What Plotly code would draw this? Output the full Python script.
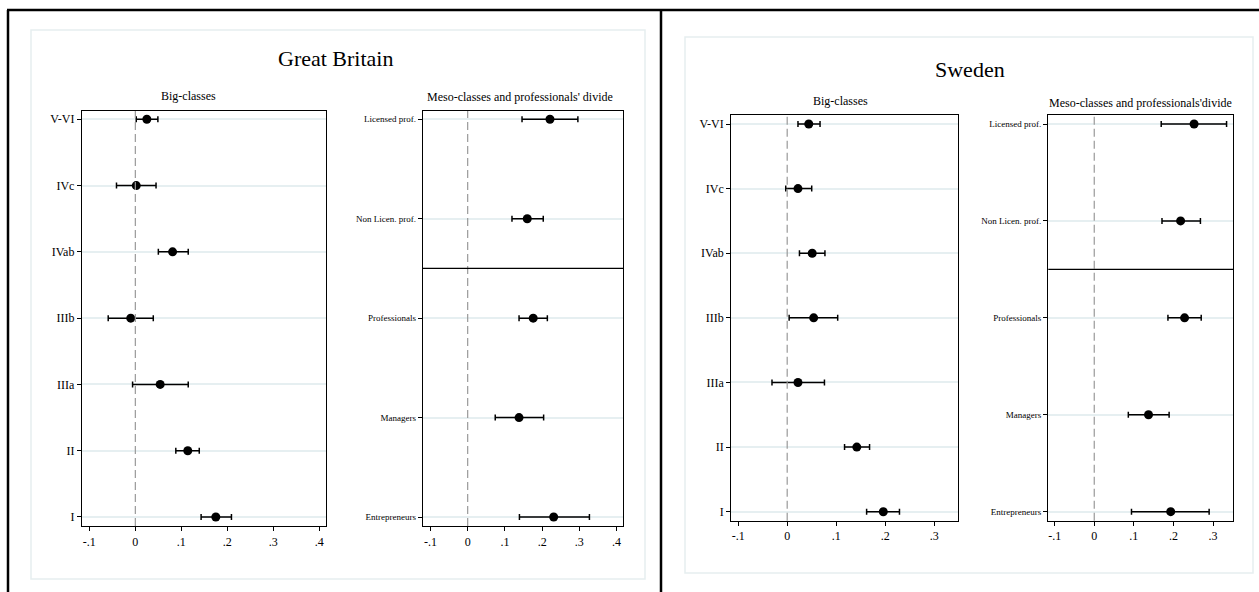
import plotly.graph_objects as go

W, H = 1259, 592

big_labels = ["I", "II", "IIIa", "IIIb", "IVab", "IVc", "V-VI"]
meso_labels = ["Entrepreneurs", "Managers", "Professionals", "Non Licen. prof.", "Licensed prof."]

# Great Britain - Big-classes (order: I ... V-VI)
gb_big_est = [0.175, 0.114, 0.054, -0.010, 0.081, 0.002, 0.025]
gb_big_lo = [0.143, 0.088, -0.006, -0.059, 0.050, -0.041, 0.002]
gb_big_hi = [0.209, 0.139, 0.115, 0.039, 0.115, 0.045, 0.049]

# Great Britain - Meso-classes
gb_meso_est = [0.231, 0.138, 0.176, 0.160, 0.221]
gb_meso_lo = [0.139, 0.074, 0.138, 0.119, 0.146]
gb_meso_hi = [0.327, 0.204, 0.214, 0.203, 0.296]

# Sweden - Big-classes
se_big_est = [0.196, 0.142, 0.022, 0.054, 0.051, 0.022, 0.044]
se_big_lo = [0.162, 0.117, -0.031, 0.004, 0.025, -0.003, 0.022]
se_big_hi = [0.229, 0.168, 0.076, 0.103, 0.077, 0.050, 0.067]

# Sweden - Meso-classes
se_meso_est = [0.193, 0.137, 0.228, 0.218, 0.252]
se_meso_lo = [0.094, 0.086, 0.186, 0.171, 0.169]
se_meso_hi = [0.290, 0.189, 0.270, 0.268, 0.334]

gb_ticks = [-0.1, 0, 0.1, 0.2, 0.3, 0.4]
gb_ticktext = ["-.1", "0", ".1", ".2", ".3", ".4"]
se_ticks = [-0.1, 0, 0.1, 0.2, 0.3]
se_ticktext = ["-.1", "0", ".1", ".2", ".3"]

FONT = "Liberation Serif"

def px_x(p):
    return p / W

def px_y(p):
    return 1 - p / H

panels = [
    (gb_big_est, gb_big_lo, gb_big_hi, big_labels, (82, 326), (111, 526), [-0.116, 0.4146], [0.864, 7.125], gb_ticks, gb_ticktext, 12, False),
    (gb_meso_est, gb_meso_lo, gb_meso_hi, meso_labels, (423, 623.3), (111, 526), [-0.120, 0.418], [0.91, 5.083], gb_ticks, gb_ticktext, 9, True),
    (se_big_est, se_big_lo, se_big_hi, big_labels, (731.3, 958.3), (114.7, 520.7), [-0.114, 0.349], [0.861, 7.144], se_ticks, se_ticktext, 12, False),
    (se_meso_est, se_meso_lo, se_meso_hi, meso_labels, (1048.3, 1233.3), (115.3, 520.7), [-0.116, 0.351], [0.907, 5.09], se_ticks, se_ticktext, 9, True),
]

fig = go.Figure()
shapes = []

shapes.append(dict(type="rect", xref="paper", yref="paper", x0=px_x(31), x1=px_x(645), y0=px_y(579), y1=px_y(30),
                   line=dict(color="#e6eef0", width=1.5), fillcolor="rgba(0,0,0,0)", layer="below"))
shapes.append(dict(type="rect", xref="paper", yref="paper", x0=px_x(685), x1=px_x(1253), y0=px_y(573), y1=px_y(37),
                   line=dict(color="#e6eef0", width=1.5), fillcolor="rgba(0,0,0,0)", layer="below"))
shapes.append(dict(type="line", xref="paper", yref="paper", x0=px_x(7), x1=1, y0=px_y(10), y1=px_y(10),
                   line=dict(color="black", width=2.5)))
shapes.append(dict(type="line", xref="paper", yref="paper", x0=px_x(8), x1=px_x(8), y0=0, y1=px_y(10),
                   line=dict(color="black", width=2.5)))
shapes.append(dict(type="line", xref="paper", yref="paper", x0=px_x(661), x1=px_x(661), y0=0, y1=px_y(10),
                   line=dict(color="black", width=2.5)))

layout_axes = {}
for i, (est, lo, hi, labels, xd, yd, xr, yr, ticks, ttext, lsize, sep) in enumerate(panels):
    n = i + 1
    xa = "x" if n == 1 else f"x{n}"
    ya = "y" if n == 1 else f"y{n}"
    yvals = list(range(1, len(labels) + 1))
    fig.add_trace(go.Scatter(
        x=est, y=yvals, xaxis=xa, yaxis=ya, mode="markers",
        marker=dict(color="black", size=9),
        error_x=dict(type="data", symmetric=False,
                     array=[h - e for h, e in zip(hi, est)],
                     arrayminus=[e - l for e, l in zip(est, lo)],
                     color="black", thickness=1.5, width=3),
        showlegend=False, hoverinfo="skip"))
    xkey = "xaxis" if n == 1 else f"xaxis{n}"
    ykey = "yaxis" if n == 1 else f"yaxis{n}"
    layout_axes[xkey] = dict(domain=[px_x(xd[0]), px_x(xd[1])], range=xr, anchor=ya,
                             tickvals=ticks, ticktext=ttext, showgrid=False, zeroline=False,
                             showline=True, mirror=True, linecolor="black", linewidth=1.3,
                             ticks="outside", ticklen=4, tickcolor="black",
                             tickfont=dict(family=FONT, size=12, color="black"))
    layout_axes[ykey] = dict(domain=[px_y(yd[1]), px_y(yd[0])], range=yr, anchor=xa,
                             tickvals=yvals, ticktext=labels, showgrid=True, gridcolor="#e6eff1", gridwidth=1.5,
                             zeroline=False, showline=True, mirror=True, linecolor="black", linewidth=1.3,
                             ticks="outside", ticklen=4, tickcolor="black",
                             tickfont=dict(family=FONT, size=lsize, color="black"))
    shapes.append(dict(type="line", xref=xa, yref=f"{ya} domain", x0=0, x1=0, y0=0, y1=1,
                       line=dict(color="#999999", width=1.2, dash="8px,4px"), layer="above"))
    if sep:
        shapes.append(dict(type="line", xref=f"{xa} domain", yref=ya, x0=0, x1=1, y0=3.5, y1=3.5,
                           line=dict(color="black", width=1.3)))

annotations = [
    dict(text="Great Britain", x=px_x(335), y=px_y(58), font=dict(family=FONT, size=22, color="black")),
    dict(text="Sweden", x=px_x(970), y=px_y(70), font=dict(family=FONT, size=22, color="black")),
    dict(text="Big-classes", x=px_x(188), y=px_y(96), font=dict(family=FONT, size=12, color="black")),
    dict(text="Meso-classes and professionals' divide", x=px_x(520), y=px_y(97), font=dict(family=FONT, size=12, color="black")),
    dict(text="Big-classes", x=px_x(840), y=px_y(101), font=dict(family=FONT, size=12, color="black")),
    dict(text="Meso-classes and professionals'divide", x=px_x(1140), y=px_y(103), font=dict(family=FONT, size=12, color="black")),
]
for a in annotations:
    a.update(xref="paper", yref="paper", showarrow=False, xanchor="center", yanchor="middle")

fig.update_layout(width=W, height=H, margin=dict(l=0, r=0, t=0, b=0),
                  paper_bgcolor="white", plot_bgcolor="white",
                  shapes=shapes, annotations=annotations, **layout_axes)

fig.write_html("out.html", config={"displayModeBar": False},
               post_script="document.body.style.margin='0';document.body.style.overflow='hidden';")
